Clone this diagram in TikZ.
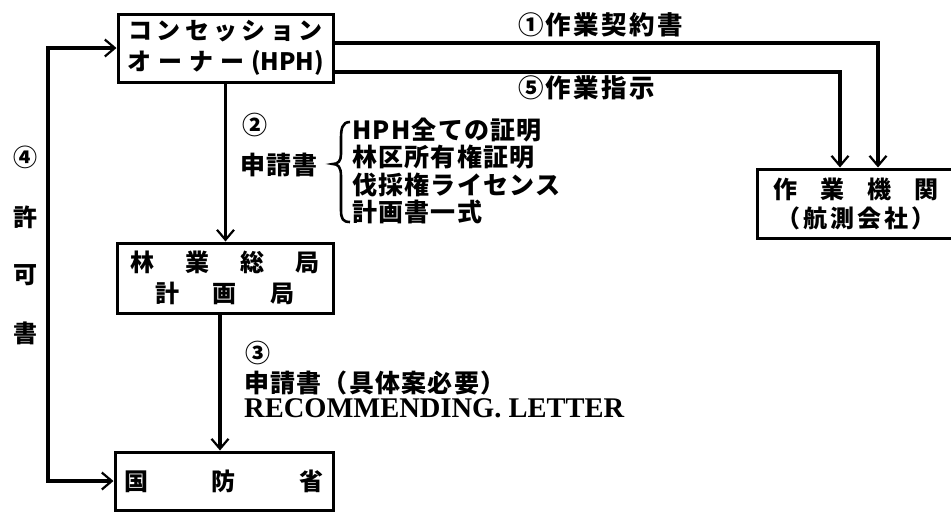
\documentclass[tikz,border=0pt]{standalone}
\usepackage{fontspec}
\setmainfont{Liberation Serif}
\newfontfamily\jp[LetterSpace=5]{Noto Sans CJK JP}
\newfontfamily\jpb[LetterSpace=9]{Noto Sans CJK JP}
\newfontfamily\jpn{Noto Sans CJK JP}
\usetikzlibrary{arrows.meta}
\tikzset{
  box/.style={draw, line width=3pt, inner sep=0pt, align=center,
    font=\jpn\bfseries\fontsize{24}{31}\selectfont},
  conn/.style={line width=3.4pt},
  arr/.style={-{Straight Barb[length=10pt,width=17pt,line width=2.2pt]}},
  barr/.style={{Straight Barb[length=10pt,width=17pt,line width=2.2pt]}-{Straight Barb[length=10pt,width=17pt,line width=2.2pt]}},
  lab/.style={font=\jp\bfseries\fontsize{25}{27.5}\selectfont, inner sep=0pt, anchor=west, align=left},
  biglab/.style={lab, font=\jpb\bfseries\fontsize{25.5}{30}\selectfont},
  side/.style={font=\jpn\bfseries\fontsize{24}{26}\selectfont, inner sep=0pt}
}
\begin{document}
\begin{tikzpicture}[x=1pt,y=-1pt]
\useasboundingbox (0,0) rectangle (951,512);
% boxes
\node[box, minimum width=215pt, minimum height=68pt] (owner) at (225.5,48)
  {\makebox[194pt][s]{コ\hfill ン\hfill セ\hfill ッ\hfill シ\hfill ョ\hfill ン}\\
   \makebox[197pt][s]{オ\hfill ー\hfill ナ\hfill ー\hfill (HPH)}};
\node[box, minimum width=216pt, minimum height=70pt] (forest) at (225,278)
  {\makebox[190pt][s]{林\hfill 業\hfill 総\hfill 局}\\
   \makebox[140pt][s]{計\hfill 画\hfill 局}};
\node[box, minimum width=218pt, minimum height=58pt] (defense) at (224,481)
  {\raisebox{-6pt}{\makebox[200pt][s]{国\hfill 防\hfill 省}}};
\node[box, minimum width=198pt, minimum height=69pt, font=\jpn\bfseries\fontsize{24}{29}\selectfont] (agency) at (856,203.5)
  {\makebox[165pt][s]{作\hfill 業\hfill 機\hfill 関}\\
   \makebox[160pt][s]{（\hfill 航\hfill 測\hfill 会\hfill 社\hfill ）}};
% connectors
\coordinate (lc) at (48,265);
\draw[conn, barr] (owner.west) -| (lc) |- (defense.west);
\draw[conn, arr] (owner.south) -- (owner.south |- forest.north);
\draw[conn, arr] ([xshift=-5pt]forest.south) -- ([xshift=-5pt]forest.south |- defense.north);
\draw[conn, arr] ([yshift=5pt]owner.east) -| ([xshift=22pt]agency.north);
\draw[conn, arr] ([yshift=-24pt]owner.east) -| ([xshift=-16pt]agency.north);
% labels
\node[biglab] (l1) at (518,25) {①作業契約書};
\node[biglab] (l5) at (518,88) {⑤作業指示};
\node[lab] (l2) at (242,125) {②};
\node[lab] (l2a) at (240,165) {申請書};
\node[lab] (l2b) at (352,171) {HPH全ての証明\\林区所有権証明\\伐採権ライセンス\\計画書一式};
\draw[line width=2.6pt] (350,122) .. controls (342,122) and (341,129) .. (341,139)
  -- (341,154) .. controls (341,161) and (338,164) .. (333,164)
  .. controls (338,164) and (341,167) .. (341,176)
  -- (341,210) .. controls (341,219) and (343,222) .. (350,222);
\node[lab] (l3) at (245,353) {③};
\node[lab] (l3a) at (244,383) {申請書（具体案必要）};
\node[lab, font=\bfseries\fontsize{28.5}{30}\selectfont] (l3b) at (244,408) {RECOMMENDING. LETTER};
\node[side] (s1) at (25,157) {④};
\node[side] (s2) at (25,217) {許};
\node[side] (s3) at (25,275) {可};
\node[side] (s4) at (25,333) {書};
\end{tikzpicture}
\end{document}
